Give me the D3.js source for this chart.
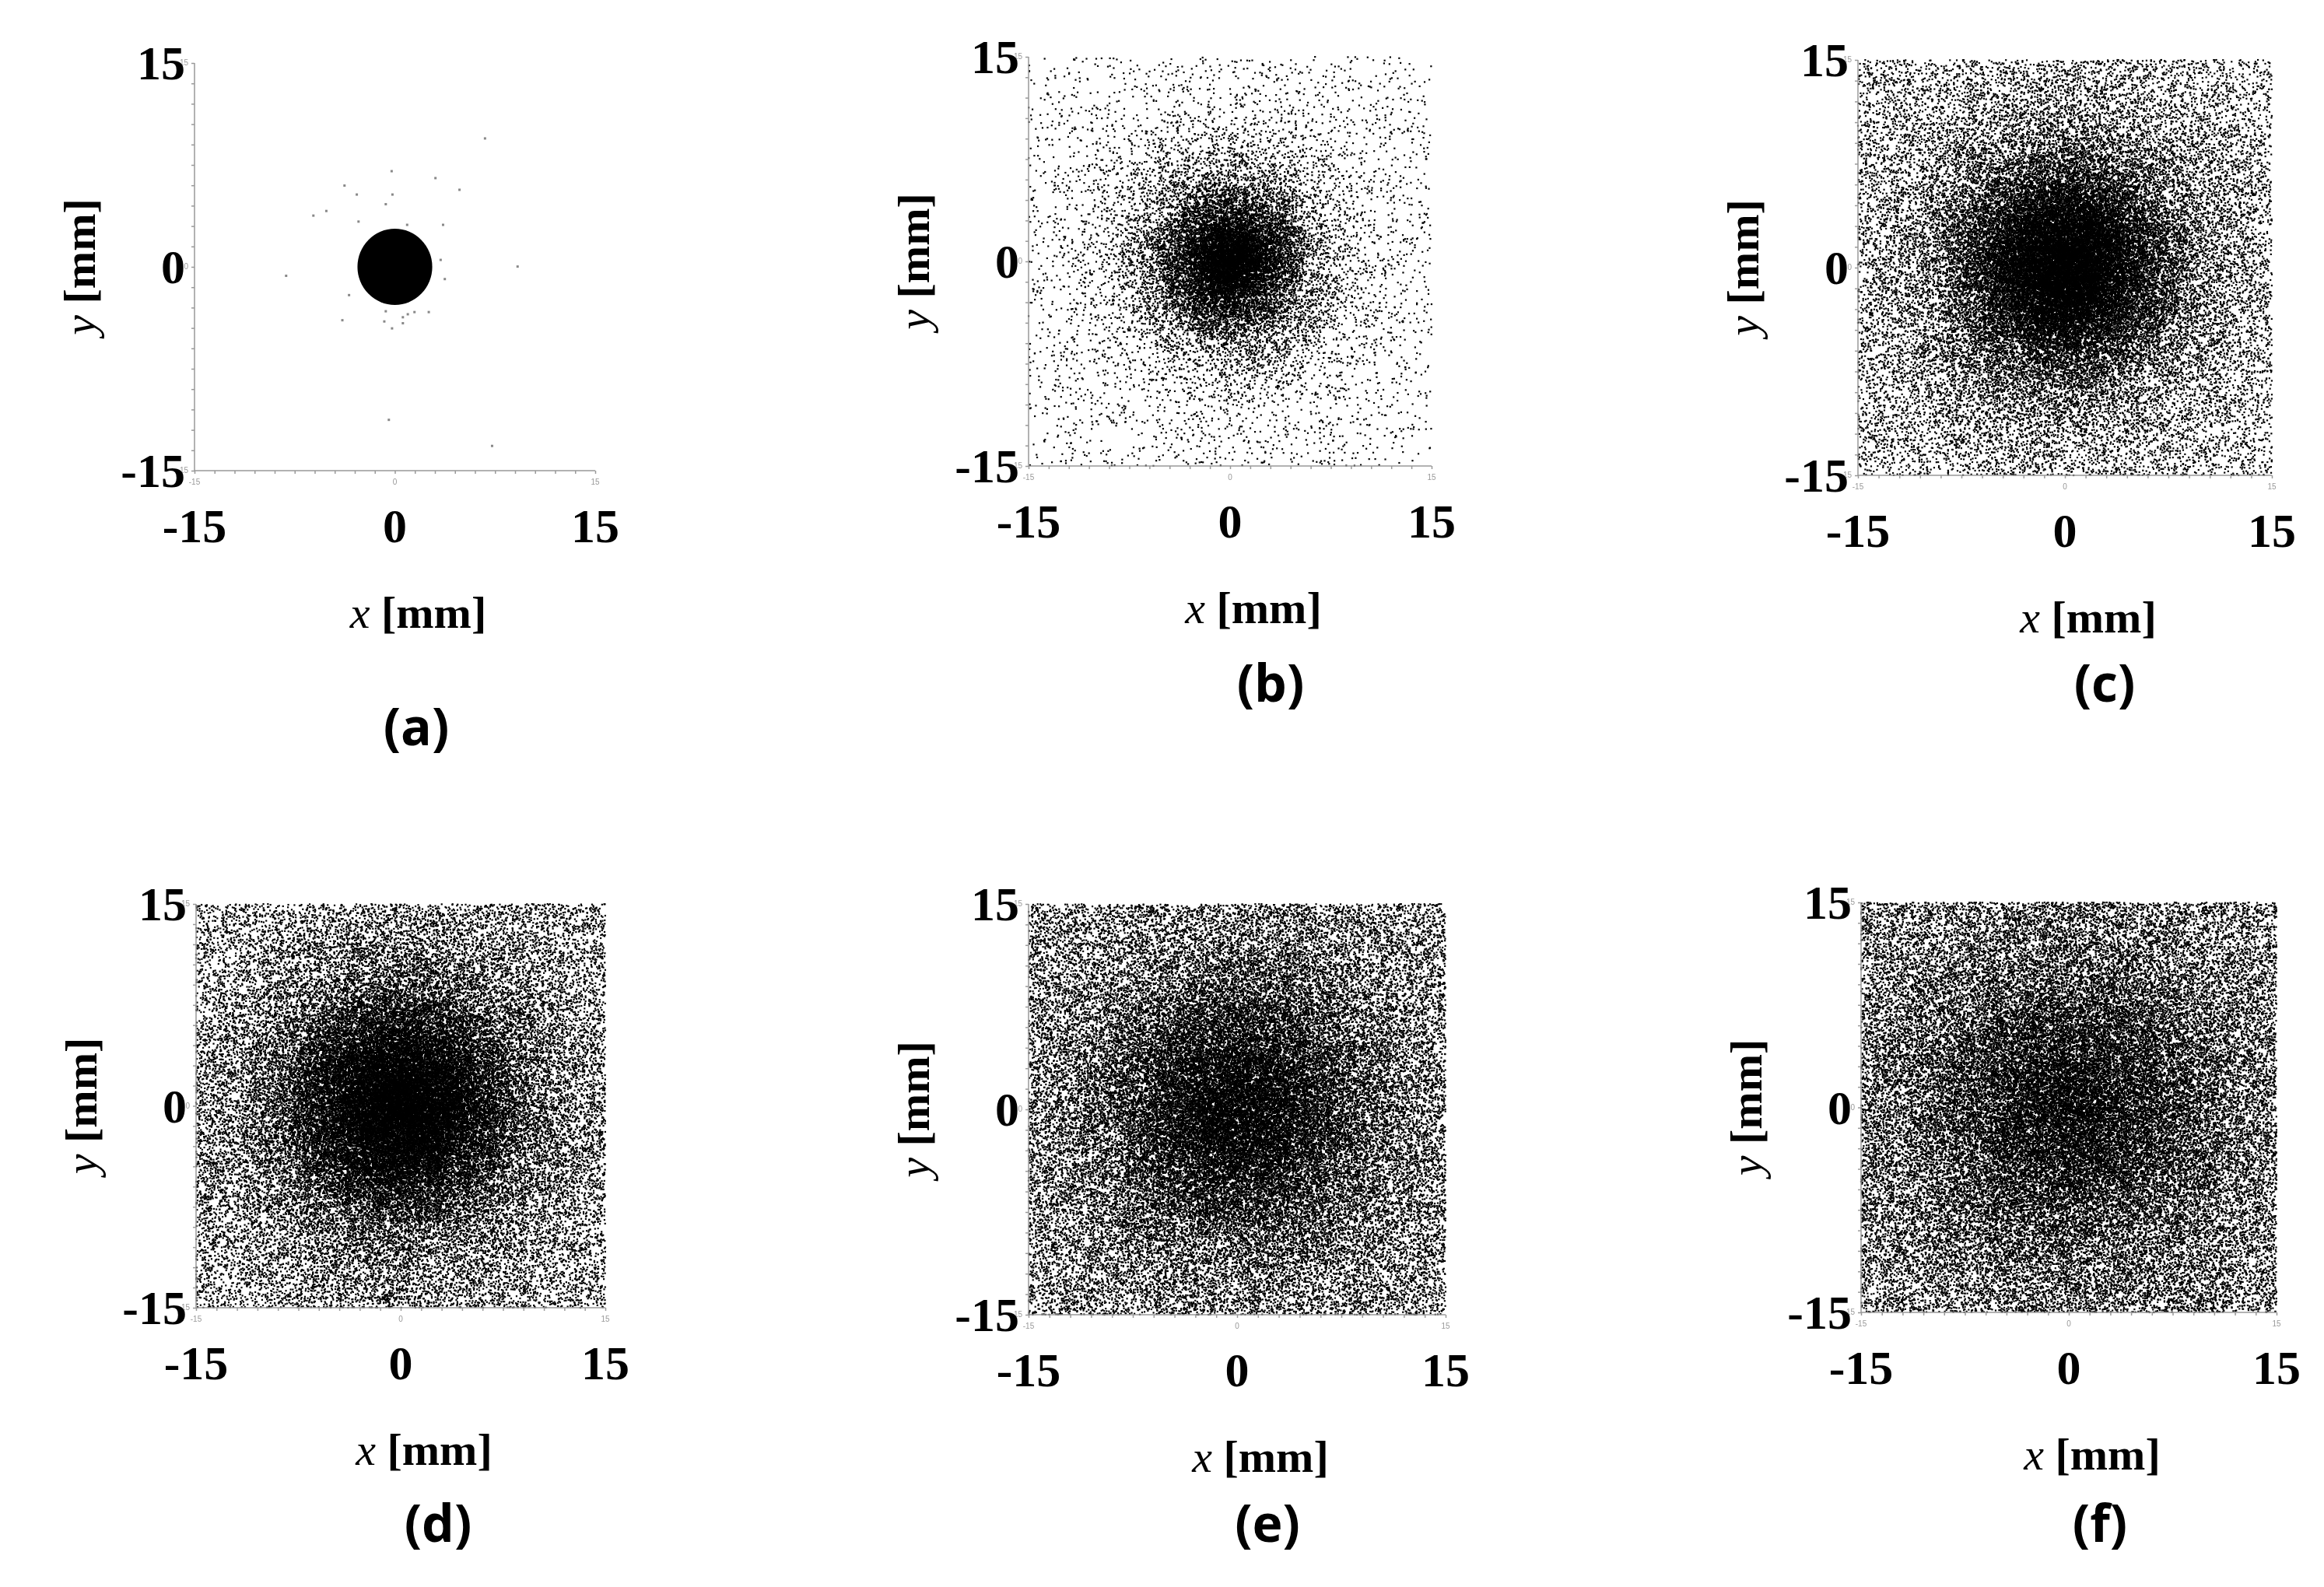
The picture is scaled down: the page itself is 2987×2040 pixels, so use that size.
<!DOCTYPE html>
<html><head><meta charset="utf-8">
<script src="https://cdn.jsdelivr.net/npm/d3@7"></script>
<style>body{margin:0;background:#fff}#wrap{position:relative;width:2987px;height:2040px}canvas,svg{position:absolute;left:0;top:0}</style>
</head><body><div id="wrap"><canvas id="cv" width="2987" height="2040"></canvas><svg id="sv" width="2987" height="2040"></svg></div>
<script>
// ---- data ----
const panelNames = ["(a)","(b)","(c)","(d)","(e)","(f)"];
const tickLabels = [-15, 0, 15];
const profileRadii = [0, 3, 6, 9, 12, 15, 18, 22];           // mm
// estimated particle density (dots per mm^2) vs radius, panels b..f
const densityB = [420, 130, 32, 11, 5, 3.5, 3, 3];
const densityC = [420, 250, 110, 48, 28, 20, 17, 16];
const densityD = [380, 250, 130, 62, 38, 28, 24, 22];
const densityE = [210, 160, 105, 66, 46, 36, 32, 30];
const densityF = [160, 130, 95, 68, 50, 40, 36, 34];
// panel (a): dense core radius (mm) and isolated outlier particles [x, y] in mm
const coreRadiusA = 2.8;
const outliersA = [[6.75,9.45],[-0.24,7.04],[3.04,6.53],[-3.77,5.98],[4.84,5.67],[-2.85,5.32],[-0.18,5.32],[-0.68,4.61],[-6.10,3.77],[-5.13,4.11],[-2.72,3.33],[0.92,3.09],[3.61,3.09],[3.43,0.51],[3.74,-0.90],[-8.14,-0.66],[9.19,0.02],[-3.43,-2.08],[-0.68,-3.27],[1.47,-3.33],[2.54,-3.33],[0.97,-3.49],[0.60,-3.71],[-3.93,-3.93],[-0.79,-4.02],[0.60,-4.15],[-0.21,-4.53],[-0.45,-11.26],[7.28,-13.18]];

// ---- layout ----
const rects = [
  {x0:250,x1:765,y0:81,y1:605, lab:[535,958]},
  {x0:1322,x1:1840,y0:73,y1:599, lab:[1633,902]},
  {x0:2388,x1:2920,y0:77,y1:611, lab:[2705,902]},
  {x0:252,x1:778,y0:1162,y1:1681, lab:[563,1982]},
  {x0:1322,x1:1858,y0:1162,y1:1690, lab:[1629,1982]},
  {x0:2392,x1:2926,y0:1160,y1:1687, lab:[2699,1982]}
];
const profiles = [null, densityB, densityC, densityD, densityE, densityF];

const svg = d3.select("#sv");
const ctx = document.getElementById("cv").getContext("2d");

function mulberry32(a){return function(){a|=0;a=a+0x6D2B79F5|0;let t=Math.imul(a^a>>>15,1|a);t=t+Math.imul(t^t>>>7,61|t)^t;return((t^t>>>14)>>>0)/4294967296;}}

rects.forEach((r,i)=>{
  const x = d3.scaleLinear().domain([-15,15]).range([r.x0,r.x1]);
  const y = d3.scaleLinear().domain([-15,15]).range([r.y1,r.y0]);
  ctx.fillStyle = "#000";
  if (i===0){
    ctx.beginPath();
    ctx.ellipse(x(0),y(0),x(coreRadiusA)-x(0),y(0)-y(coreRadiusA),0,0,Math.PI*2);
    ctx.fill();
    outliersA.forEach(p=>{ctx.fillStyle="#888";ctx.fillRect(x(p[0])-1.5,y(p[1])-1.5,3,3);});
  } else {
    const dens = d3.scaleLinear().domain(profileRadii).range(profiles[i]).clamp(true);
    const maxD = d3.max(profiles[i]);
    const rnd = mulberry32(1000+i);
    const total = Math.round(maxD*900);
    for (let k=0;k<total;k++){
      const px = -15+30*rnd(), py = -15+30*rnd();
      const rr = Math.hypot(px,py);
      if (rnd()*maxD < dens(rr)){
        ctx.fillRect(x(px)-1.1,y(py)-1.1,2.2,2.2);
      }
    }
  }
  const g = svg.append("g");
  const ax = d3.axisBottom(x).tickValues(d3.range(-15,15.01,1.5)).tickSize(4).tickFormat("");
  const ay = d3.axisLeft(y).tickValues(d3.range(-15,15.01,1.5)).tickSize(4).tickFormat("");
  g.append("g").attr("transform",`translate(0,${r.y1})`).call(ax).call(s=>{s.selectAll("path,line").attr("stroke","#999").attr("stroke-width",1.5);s.select(".domain").attr("d",`M${r.x0},0H${r.x1}`);});
  g.append("g").attr("transform",`translate(${r.x0},0)`).call(ay).call(s=>{s.selectAll("path,line").attr("stroke","#999").attr("stroke-width",1.5);s.select(".domain").attr("d",`M0,${r.y1}V${r.y0}`);});
  tickLabels.forEach(t=>{
    g.append("text").attr("x",x(t)).attr("y",r.y1+18).attr("text-anchor","middle").attr("font-size",10).attr("fill","#999").attr("font-family","Liberation Sans").text(t);
    g.append("text").attr("x",r.x0-8).attr("y",y(t)+3).attr("text-anchor","end").attr("font-size",10).attr("fill","#999").attr("font-family","Liberation Sans").text(t);
  });
  tickLabels.forEach(t=>{
    g.append("text").attr("x",x(t)).attr("y",r.y1+92).attr("text-anchor","middle")
     .attr("font-family","Liberation Serif").attr("font-weight","bold").attr("font-size",62).text(t);
    g.append("text").attr("x",r.x0-12).attr("y",y(t)+21).attr("text-anchor","end")
     .attr("font-family","Liberation Serif").attr("font-weight","bold").attr("font-size",62).text(t);
  });
  const xt = g.append("text").attr("x",(r.x0+r.x1)/2+30).attr("y",r.y1+202).attr("text-anchor","middle")
     .attr("font-family","Liberation Serif").attr("font-size",58);
  xt.append("tspan").attr("font-style","italic").text("x ");
  xt.append("tspan").attr("font-weight","bold").text("[mm]");
  const cy = (r.y0+r.y1)/2;
  const yt = g.append("text").attr("transform",`translate(${r.x0-128},${cy}) rotate(-90)`).attr("text-anchor","middle")
     .attr("font-family","Liberation Serif").attr("font-size",58);
  yt.append("tspan").attr("font-style","italic").text("y ");
  yt.append("tspan").attr("font-weight","bold").text("[mm]");
  g.append("text").attr("x",r.lab[0]).attr("y",r.lab[1]).attr("text-anchor","middle")
   .attr("font-family","Open Sans").attr("font-weight","bold").attr("font-size",66).text(panelNames[i]);
});
</script></body></html>
